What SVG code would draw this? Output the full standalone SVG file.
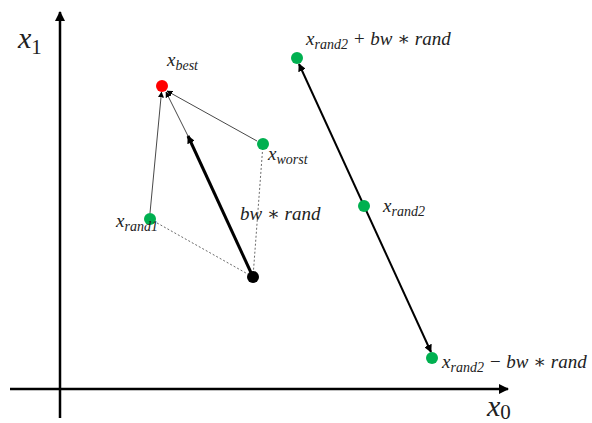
<svg xmlns="http://www.w3.org/2000/svg" width="592" height="423" viewBox="0 0 592 423">
<defs>
<marker id="ah" viewBox="0 0 10 10" refX="9" refY="5" markerWidth="6" markerHeight="6" orient="auto-start-reverse" markerUnits="userSpaceOnUse"><path d="M0,0 L10,5 L0,10 z" fill="#000"/></marker>
<marker id="ahb" viewBox="0 0 10 10" refX="9" refY="5" markerWidth="10" markerHeight="10" orient="auto-start-reverse" markerUnits="userSpaceOnUse"><path d="M0,0 L10,5 L0,10 z" fill="#000"/></marker>
<marker id="ahm" viewBox="0 0 10 10" refX="9" refY="5" markerWidth="8" markerHeight="8" orient="auto-start-reverse" markerUnits="userSpaceOnUse"><path d="M0,0 L10,5 L0,10 z" fill="#000"/></marker>
</defs>
<style>
.t{font-family:"Liberation Serif","DejaVu Serif",serif;font-style:italic;fill:#222;}
.lab{font-size:19px;}
.sub{font-size:14px;}
.ax{font-size:30px;}
.axs{font-size:21px;font-style:normal;}
.thin{stroke:#333;stroke-width:0.9;fill:none;}
.dot{stroke:#444;stroke-width:0.8;stroke-dasharray:2,2;fill:none;}
.g{fill:#00b050;}
</style>
<rect width="592" height="423" fill="#fff"/>
<g id="axes">
<line x1="60" y1="418" x2="60" y2="12" stroke="#000" stroke-width="2.5" marker-end="url(#ahb)"/>
<line x1="10" y1="389" x2="508" y2="389" stroke="#000" stroke-width="2.5" marker-end="url(#ahb)"/>
<text class="t ax" x="18" y="48">x<tspan class="axs" dy="6">1</tspan></text>
<text class="t ax" x="487" y="416">x<tspan class="axs" dy="3">0</tspan></text>
</g>
<g id="connectors">
<line class="dot" x1="150" y1="219" x2="253" y2="277"/>
<line class="dot" x1="263" y1="144" x2="253" y2="277"/>
<line class="thin" x1="150" y1="213" x2="161.5" y2="92" marker-end="url(#ah)"/>
<line class="thin" x1="257" y1="141" x2="167" y2="91" marker-end="url(#ah)"/>
<line class="thin" x1="189" y1="138" x2="166" y2="92" marker-end="url(#ah)"/>
<line x1="253" y1="277" x2="188" y2="136" stroke="#000" stroke-width="3" marker-end="url(#ahm)"/>
<line x1="299" y1="64" x2="431" y2="352" stroke="#000" stroke-width="2" marker-start="url(#ahm)" marker-end="url(#ahm)"/>
</g>
<g id="x_best"><circle cx="162" cy="86" r="6" fill="#ff0000"/><text class="t lab" x="167" y="66">x<tspan class="sub" dy="4">best</tspan></text></g>
<g id="x_worst"><circle class="g" cx="263" cy="144" r="6"/><text class="t lab" x="268" y="160">x<tspan class="sub" dy="4">worst</tspan></text></g>
<g id="x_rand1"><circle class="g" cx="150" cy="219" r="6"/><text class="t lab" x="116" y="227">x<tspan class="sub" dy="4">rand1</tspan></text></g>
<g id="x_black"><circle cx="253" cy="277" r="6" fill="#000"/></g>
<text class="t lab" x="240" y="220">bw ∗ rand</text>
<g id="x_rand2_plus"><circle class="g" cx="297" cy="58" r="6"/><text class="t lab" x="306" y="45">x<tspan class="sub" dy="4">rand2</tspan><tspan dy="-4"> + bw ∗ rand</tspan></text></g>
<g id="x_rand2"><circle class="g" cx="364" cy="206" r="6"/><text class="t lab" x="383" y="212">x<tspan class="sub" dy="4">rand2</tspan></text></g>
<g id="x_rand2_minus"><circle class="g" cx="432" cy="358" r="6"/><text class="t lab" x="442" y="368">x<tspan class="sub" dy="4">rand2</tspan><tspan dy="-4"> − bw ∗ rand</tspan></text></g>
</svg>
